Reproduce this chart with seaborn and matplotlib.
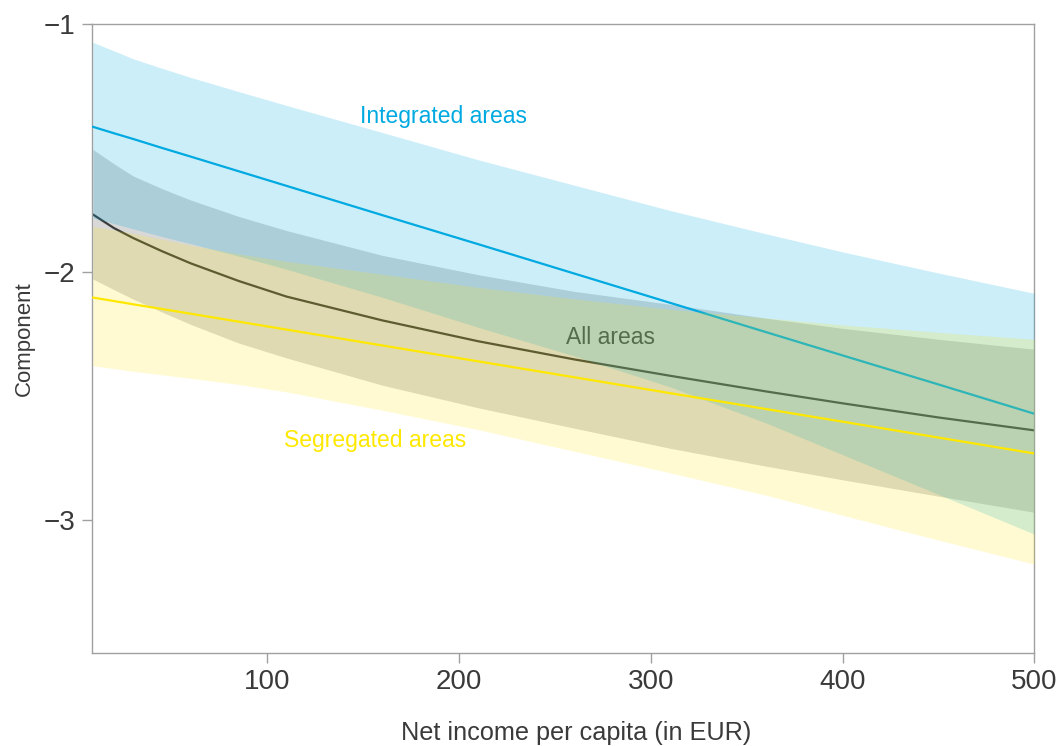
import matplotlib
matplotlib.use("Agg")
import matplotlib.pyplot as plt
import pandas as pd
import seaborn as sns

# Net income per capita (EUR) at which the fitted curves are evaluated
income = [9, 20, 30, 45, 60, 85, 110, 160, 210, 260, 310, 360, 400, 450, 500]

# Integrated areas: fit and confidence band
integrated_fit = [-1.414, -1.440, -1.463, -1.499, -1.534, -1.593, -1.652,
                  -1.770, -1.887, -2.005, -2.123, -2.241, -2.335, -2.452,
                  -2.570]
integrated_upper = [-1.074, -1.108, -1.140, -1.178, -1.215, -1.272, -1.328,
                    -1.437, -1.547, -1.649, -1.751, -1.845, -1.918, -2.003,
                    -2.085]
integrated_lower = [-1.781, -1.804, -1.825, -1.856, -1.885, -1.935, -1.988,
                    -2.101, -2.222, -2.337, -2.462, -2.607, -2.735, -2.895,
                    -3.055]

# All areas: fit and confidence band
all_fit = [-1.767, -1.822, -1.862, -1.915, -1.964, -2.035, -2.098, -2.194,
           -2.278, -2.351, -2.417, -2.480, -2.528, -2.585, -2.637]
all_upper = [-1.505, -1.563, -1.612, -1.663, -1.709, -1.775, -1.832, -1.932,
             -2.010, -2.077, -2.129, -2.185, -2.226, -2.270, -2.310]
all_lower = [-2.027, -2.070, -2.108, -2.160, -2.210, -2.285, -2.345, -2.455,
             -2.546, -2.628, -2.709, -2.781, -2.836, -2.902, -2.967]

# Segregated areas: fit and confidence band
segregated_fit = [-2.102, -2.116, -2.129, -2.148, -2.167, -2.199, -2.231,
                  -2.295, -2.359, -2.423, -2.487, -2.551, -2.602, -2.666,
                  -2.730]
segregated_upper = [-1.815, -1.829, -1.843, -1.867, -1.891, -1.926, -1.956,
                    -2.008, -2.061, -2.107, -2.149, -2.184, -2.212, -2.242,
                    -2.270]
segregated_lower = [-2.377, -2.388, -2.399, -2.413, -2.427, -2.452, -2.482,
                    -2.556, -2.634, -2.721, -2.808, -2.898, -2.979, -3.079,
                    -3.176]

x_ticks = [100, 200, 300, 400, 500]
y_ticks = [-1, -2, -3]

GREY = "#3C3C3C"
BLUE = "#00AAE1"
YELLOW = "#FFE800"
SPINE = "#A0A0A0"
TEXT = "#3A3A3A"

sns.set_theme(style="white")
plt.rcParams["font.family"] = ["Liberation Sans", "DejaVu Sans"]

df = pd.DataFrame({
    "income": income,
    "integrated_fit": integrated_fit,
    "integrated_upper": integrated_upper,
    "integrated_lower": integrated_lower,
    "all_fit": all_fit,
    "all_upper": all_upper,
    "all_lower": all_lower,
    "segregated_fit": segregated_fit,
    "segregated_upper": segregated_upper,
    "segregated_lower": segregated_lower,
})

fig = plt.figure(figsize=(10.58, 7.46), dpi=100)
ax = fig.add_axes([0.0872, 0.1243, 0.9776 - 0.0872, 0.9678 - 0.1243])

# All areas (drawn first, underneath the other groups)
ax.fill_between(df["income"], df["all_lower"], df["all_upper"],
                color=GREY, alpha=0.2, linewidth=0, zorder=1)
sns.lineplot(data=df, x="income", y="all_fit", color=GREY, linewidth=1.6,
             zorder=2, ax=ax)
ax.text(256, -2.262, "All areas", color=GREY, fontsize=16.5,
        ha="left", va="center", zorder=2)

# Integrated areas
ax.fill_between(df["income"], df["integrated_lower"], df["integrated_upper"],
                color=BLUE, alpha=0.2, linewidth=0, zorder=3)
sns.lineplot(data=df, x="income", y="integrated_fit", color=BLUE,
             linewidth=1.6, zorder=4, ax=ax)
ax.text(148.5, -1.372, "Integrated areas", color=BLUE, fontsize=16.5,
        ha="left", va="center", zorder=4)

# Segregated areas
ax.fill_between(df["income"], df["segregated_lower"], df["segregated_upper"],
                color=YELLOW, alpha=0.18, linewidth=0, zorder=5)
sns.lineplot(data=df, x="income", y="segregated_fit", color=YELLOW,
             linewidth=1.6, zorder=6, ax=ax)
ax.text(108.7, -2.677, "Segregated areas", color=YELLOW, fontsize=16.5,
        ha="left", va="center", zorder=6)

ax.set_xlim(8.7, 500)
ax.set_ylim(-3.535, -1)
ax.set_xticks(x_ticks)
ax.set_yticks(y_ticks)
ax.set_xticklabels([str(v) for v in x_ticks])
ax.set_yticklabels(["\u2212" + str(abs(v)) for v in y_ticks])

ax.set_xlabel("Net income per capita (in EUR)", fontsize=18.2, color=TEXT,
              labelpad=19, x=0.514)
ax.set_ylabel("Component", fontsize=16, color=TEXT, labelpad=6.5)

ax.tick_params(axis="both", which="major", direction="out", length=7,
               width=1.0, color=SPINE, labelsize=20, labelcolor=TEXT, pad=4,
               bottom=True, left=True, top=False, right=False)
ax.tick_params(axis="y", pad=5)

for side in ["left", "bottom", "top", "right"]:
    ax.spines[side].set_visible(True)
    ax.spines[side].set_color(SPINE)
    ax.spines[side].set_linewidth(1.0)

ax.grid(False)

fig.savefig("out.png", dpi=100, facecolor="white")
